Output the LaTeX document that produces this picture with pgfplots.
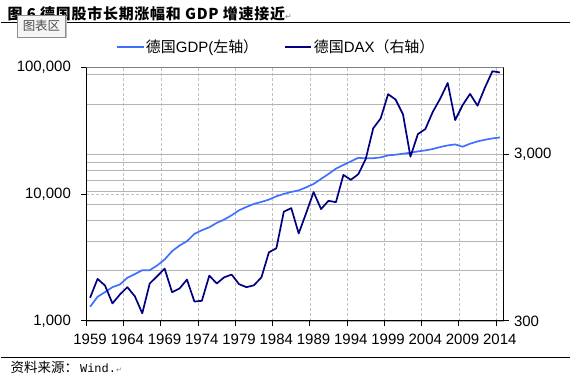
\documentclass[border=0pt]{standalone}
\usepackage{pgfplots}
\pgfplotsset{compat=1.18}
\usepackage{fontspec}
\setmainfont{Liberation Sans}
\setmonofont{Liberation Mono}
\newfontfamily\cjk{Noto Sans CJK SC}
\newfontfamily\cjktitle[LetterSpace=5]{Noto Sans CJK SC}
\newfontfamily\sym{DejaVu Sans}
\definecolor{gdpblue}{RGB}{64,112,255}
\definecolor{daxnavy}{RGB}{0,0,128}
\definecolor{gridgray}{RGB}{180,180,180}
\definecolor{vgridgray}{RGB}{192,192,192}

\pgfplotstableread{
year gdp
1959 1293
1960 1549
1961 1685
1962 1845
1963 1937
1964 2188
1965 2335
1966 2510
1967 2510
1968 2734
1969 3048
1970 3540
1971 3927
1972 4246
1973 4854
1974 5180
1975 5470
1976 5925
1977 6290
1978 6800
1979 7447
1980 7915
1981 8360
1982 8667
1983 9036
1984 9594
1985 10018
1986 10388
1987 10693
1988 11290
1989 12010
1990 13150
1991 14390
1992 15850
1993 16950
1994 18080
1995 19300
1996 19100
1997 19150
1998 19440
1999 20160
2000 20420
2001 20790
2002 21170
2003 21680
2004 22080
2005 22640
2006 23480
2007 24160
2008 24610
2009 23600
2010 24930
2011 25980
2012 26790
2013 27430
2014 27930
}\gdptable

\pgfplotstableread{
year dax
1959 413
1960 536
1961 489
1962 382
1963 432
1964 478
1965 422
1966 333
1967 503
1968 556
1969 618
1970 446
1971 469
1972 531
1973 392
1974 396
1975 561
1976 503
1977 548
1978 569
1979 498
1980 478
1981 491
1982 548
1983 774
1984 818
1985 1356
1986 1426
1987 1005
1988 1331
1989 1779
1990 1407
1991 1577
1992 1548
1993 2256
1994 2107
1995 2278
1996 2812
1997 4293
1998 4926
1999 6883
2000 6399
2001 5206
2002 2901
2003 3967
2004 4252
2005 5395
2006 6476
2007 8041
2008 4813
2009 5916
2010 6914
2011 5868
2012 7548
2013 9452
2014 9300
}\daxtable

\begin{document}
\begin{tikzpicture}
\path (0pt,0pt) rectangle (571pt,380pt);

% title
\node[anchor=base west, inner sep=0pt] at (7pt,360.5pt)
  {\fontsize{15}{18}\selectfont\cjktitle\bfseries 图 6 德国股市长期涨幅和 GDP 增速接近{\sym\mdseries\fontsize{8}{9}\selectfont\color{gray}↵}};
\draw[line width=1.1pt] (0pt,357pt) -- (571pt,357pt);

% bottom source
\draw[line width=1pt] (0pt,21.7pt) -- (571pt,21.7pt);
\node[anchor=base west, inner sep=0pt] at (10pt,6.5pt)
  {\fontsize{13.5}{15}\selectfont{\cjk 资料来源：}\hspace{2pt}{\ttfamily\fontsize{12}{14}\selectfont Wind.}{\sym\fontsize{7}{8}\selectfont\color{gray}↵}};

\begin{axis}[
  at={(86pt,58.5pt)}, anchor=south west,
  scale only axis, width=418pt, height=254.2pt,
  set layers,
  xmin=1958.5, xmax=2014.5,
  ymode=log, ymin=1000, ymax=100000,
  axis x line*=bottom, axis y line*=left,
  axis line style={black, line width=1.2pt},
  xtick={1958.5,1963.5,1968.5,1973.5,1978.5,1983.5,1988.5,1993.5,1998.5,2003.5,2008.5,2013.5},
  xticklabels={1959,1964,1969,1974,1979,1984,1989,1994,1999,2004,2009,2014},
  ytick={1000,10000,100000},
  yticklabels={{1,000},{10,000},{100,000}},
  yminorticks=false,
  tick align=outside, major tick length=5pt,
  tick style={black, line width=0.8pt},
  ticklabel style={font=\fontsize{15}{18}\selectfont},
  yticklabel style={xshift=-7pt},
  xticklabel style={xshift=3.7pt, yshift=-5pt},
  xmajorgrids, ymajorgrids,
  major grid style={vgridgray, line width=0.75pt, dash pattern=on 3pt off 2pt},
]
\addplot[gdpblue, line width=1.7pt, line join=round] table[x=year,y=gdp] {\gdptable};
\draw[gray, line width=0.9pt] (rel axis cs:0,1) -- (rel axis cs:1,1);
\end{axis}

\begin{axis}[
  at={(86pt,58.5pt)}, anchor=south west,
  scale only axis, width=418pt, height=254.2pt,
  set layers,
  xmin=1958.5, xmax=2014.5,
  hide x axis,
  axis y line*=right,
  axis line style={black, line width=1.2pt},
  ymode=log, ymin=300, ymax=10000,
  ytick={300,3000}, yticklabels={300,{3,000}},
  minor ytick={600,900,1200,1500,1800,2100,2400,2700,6000,9000},
  ymajorgrids, yminorgrids,
  major grid style={gridgray, line width=0.75pt},
  minor grid style={gridgray, line width=0.75pt},
  tick align=outside, major tick length=5pt, minor tick length=0pt,
  tick style={black, line width=0.8pt},
  ticklabel style={font=\fontsize{15}{18}\selectfont},
  yticklabel style={xshift=2pt},
  legend style={at={(0.07,1.079)}, anchor=west, draw=none, fill=none,
    font=\fontsize{15}{18}\selectfont, inner sep=0pt,
    nodes={inner sep=1.5pt},
    /tikz/every even column/.append style={column sep=24pt}},
  legend columns=2,
  legend cell align=left,
  legend image code/.code={\draw[#1] (0pt,0pt) -- (27pt,0pt);},
]
\addlegendimage{gdpblue, line width=1.7pt}
\addlegendentry{{\cjk 德国}GDP({\cjk 左轴）}}
\addplot[daxnavy, line width=1.7pt, line join=round] table[x=year,y=dax] {\daxtable};
\addlegendentry{{\cjk 德国}DAX{\cjk （右轴）}}
\end{axis}

% tooltip box
\fill[black!25] (18.5pt,341.5pt) rectangle (66.5pt,363.5pt);
\filldraw[fill=black!4, draw=black!45, line width=0.6pt] (17pt,343pt) rectangle (65pt,365pt);
\node[inner sep=0pt, text=black!70] at (41pt,354pt) {\fontsize{12.5}{14}\selectfont\cjk 图表区};
\end{tikzpicture}
\end{document}
